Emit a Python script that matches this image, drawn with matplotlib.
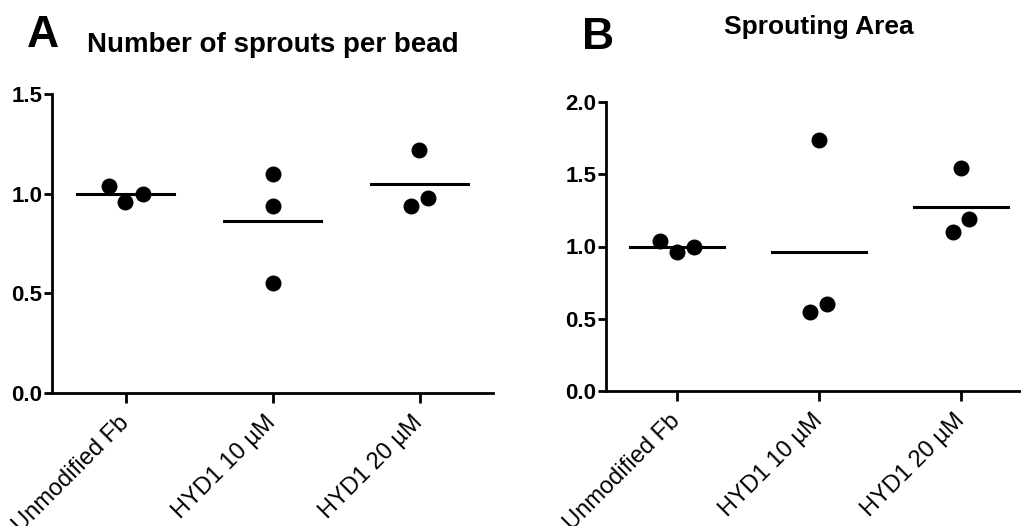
import matplotlib
matplotlib.use("Agg")
import matplotlib.pyplot as plt
import numpy as np

plt.rcParams['font.family'] = ['Liberation Sans', 'DejaVu Sans']

# Данные
groups = ['Unmodified Fb', 'HYD1 10 µM', 'HYD1 20 µM']
sprouts = [[1.04, 0.96, 1.00], [1.10, 0.94, 0.55], [1.22, 0.94, 0.98]]
area = [[1.04, 0.96, 1.00], [1.74, 0.55, 0.60], [1.54, 1.10, 1.19]]


def swarm(ax, i, vals, gap_px=14, step_px=17):
    # раздвигаем близкие точки по горизонтали, как в GraphPad
    to_px = ax.transData
    ypx = [to_px.transform((i, v))[1] for v in vals]
    order = np.argsort(ypx)
    clusters, cur = [], [order[0]]
    for a, b in zip(order[:-1], order[1:]):
        if ypx[b] - ypx[a] < gap_px:
            cur.append(b)
        else:
            clusters.append(cur)
            cur = [b]
    clusters.append(cur)
    x0 = to_px.transform((i, 0))[0]
    xs = [i] * len(vals)
    for c in clusters:
        c = sorted(c)
        for k, idx in enumerate(c):
            px = x0 + (k - (len(c) - 1) / 2) * step_px
            xs[idx] = to_px.inverted().transform((px, 0))[0]
    return xs


def panel(ax, data, ymax, title, tsize, letter, title_y, letter_xy):
    ax.set_xlim(-0.5, 2.5)
    ax.set_ylim(0, ymax)
    for i, vals in enumerate(data):
        xs = swarm(ax, i, vals)
        ax.scatter(xs, vals, s=110, color='black', zorder=3, clip_on=False)
        m = np.mean(vals)
        ax.plot([i - 0.33, i + 0.33], [m, m], color='black', lw=2.2)
    ax.spines['top'].set_visible(False)
    ax.spines['right'].set_visible(False)
    for s in ['left', 'bottom']:
        ax.spines[s].set_linewidth(2.0)
    ticks = np.arange(0, ymax + 0.01, 0.5)
    ax.set_yticks(ticks)
    ax.set_yticklabels([f'{v:.1f}' for v in ticks], fontsize=16, fontweight='bold')
    ax.set_xticks(range(len(groups)))
    ax.set_xticklabels(groups, rotation=45, ha='right', va='center',
                       rotation_mode='anchor', fontsize=17)
    ax.tick_params(axis='y', length=6, width=2.0, pad=1)
    ax.tick_params(axis='x', length=7, width=2.0, pad=12)
    ax.text(1, title_y, title, transform=ax.get_xaxis_transform(),
            ha='center', va='baseline', fontsize=tsize, fontweight='bold')
    fig.text(letter_xy[0], letter_xy[1], letter, fontsize=32,
             fontweight='bold', va='baseline')


fig = plt.figure(figsize=(10.21, 5.26), dpi=100)
W, H = 1021, 526
axA = fig.add_axes([52 / W, (H - 393) / H, (493 - 52) / W, (393 - 94) / H])
axB = fig.add_axes([606 / W, (H - 391) / H, (1032 - 606) / W, (391 - 102) / H])

panel(axA, sprouts, 1.5, 'Number of sprouts per bead', 20, 'A', 1.14, (27 / W, (H - 47) / H))
panel(axB, area, 2.0, 'Sprouting Area', 19, 'B', 1.235, (582 / W, (H - 49) / H))

fig.savefig('out.png', dpi=100)
